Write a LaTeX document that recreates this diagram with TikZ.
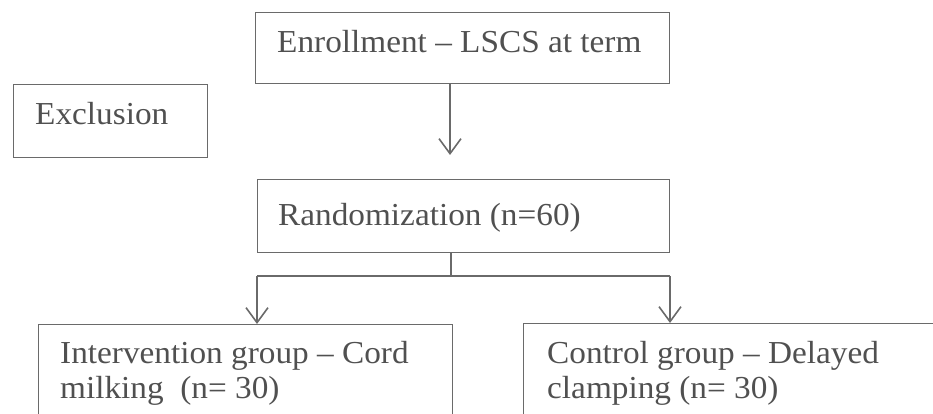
\documentclass[tikz,border=0pt]{standalone}
\usepackage{fontspec}
\setmainfont{Liberation Serif}[FakeStretch=1.04]
\usetikzlibrary{arrows.meta}
\definecolor{linegray}{HTML}{6A6A6A}
\definecolor{textgray}{HTML}{505050}
\begin{document}
\begin{tikzpicture}[x=1pt,y=-1pt,
  box/.style={draw=linegray,line width=1.4pt,rectangle,inner sep=0pt},
  txt/.style={anchor=base west,inner sep=0pt,text=textgray,font=\fontsize{32}{35}\selectfont},
  arr/.style={draw=linegray,line width=1.6pt,-{Straight Barb[length=15pt,width=22pt,line width=1.6pt]}},
  conn/.style={draw=linegray,line width=1.2pt}]
\useasboundingbox (0,0) rectangle (933,414);
\clip (0,0) rectangle (933,414);
% boxes
\node[box,minimum width=414pt,minimum height=71pt,anchor=north west] (enroll) at (255,12) {};
\node[box,minimum width=194pt,minimum height=73pt,anchor=north west] (excl) at (13,84) {};
\node[box,minimum width=412pt,minimum height=73pt,anchor=north west] (rand) at (257,179) {};
\node[box,minimum width=414pt,minimum height=120pt,anchor=north west] (interv) at (38,324) {};
\node[box,minimum width=430pt,minimum height=120pt,anchor=north west] (ctrl) at (523,323) {};
% texts
\node[txt] (t1) at (277,53) {Enrollment – LSCS at term};
\node[txt] (t2) at (35,125) {Exclusion};
\node[txt] (t3) at (278,225) {Randomization (n=60)};
\node[txt] (t4) at (60,363) {Intervention group – Cord};
\node[txt] (t5) at (60,398) {milking~ (n= 30)};
\node[txt] (t6) at (547,363) {Control group – Delayed};
\node[txt] (t7) at (547,398) {clamping (n= 30)};
% connectors
\coordinate (ax) at (450,0);
\coordinate (tip1) at (450,155);
\draw[arr] (enroll.south -| ax) -- (tip1);
\coordinate (bx) at (451,0);
\coordinate (split) at (451,276);
\coordinate (lsplit) at (257,276);
\coordinate (rsplit) at (670,276);
\draw[conn] (rand.south -| bx) -- (split);
\draw[conn] (lsplit) -- (rsplit);
\draw[arr] (lsplit) -- (interv.north -| lsplit);
\draw[arr] (rsplit) -- (ctrl.north -| rsplit);
\end{tikzpicture}
\end{document}
